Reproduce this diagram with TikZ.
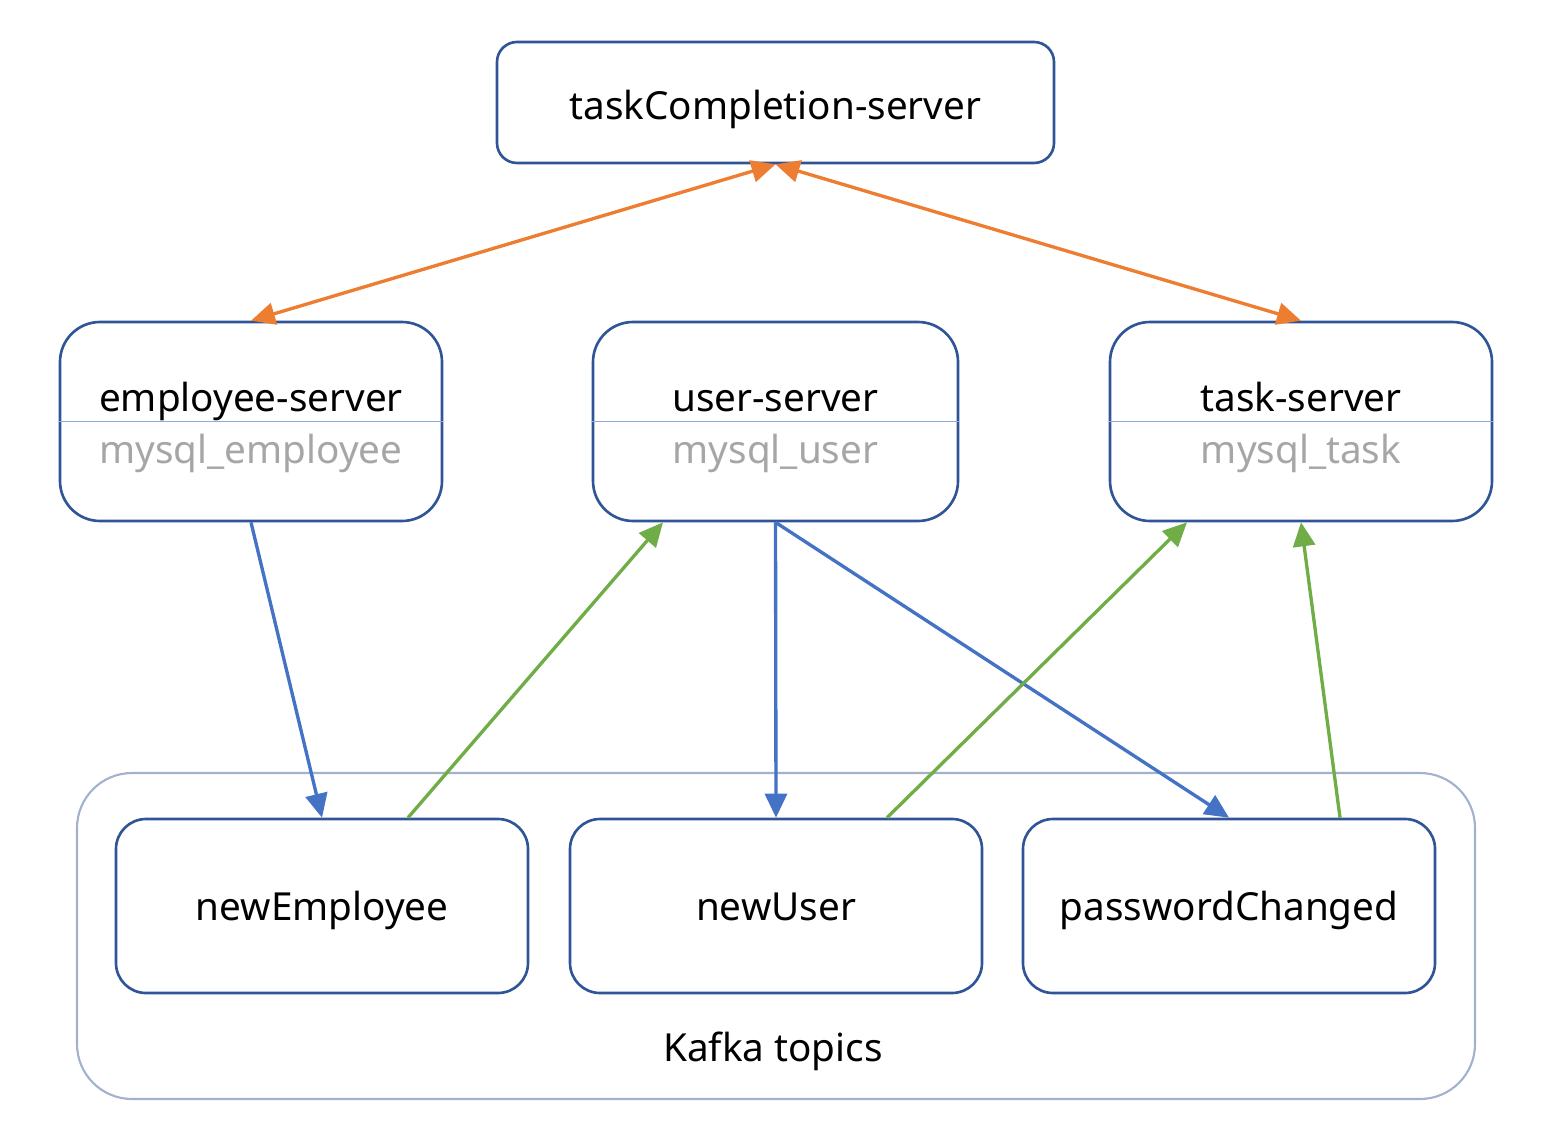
\documentclass[tikz,border=0pt]{standalone}
\usepackage{fontspec}
\setmainfont{Noto Sans}
\usetikzlibrary{arrows.meta, positioning}

\definecolor{boxblue}{HTML}{2F5597}
\definecolor{lineblue}{HTML}{4472C4}
\definecolor{divblue}{HTML}{8EAADB}
\definecolor{kafkagray}{HTML}{A2B1CC}
\definecolor{orangeln}{HTML}{ED7D31}
\definecolor{greenln}{HTML}{70AD47}
\definecolor{dbgray}{HTML}{A6A6A6}

\begin{document}
\begin{tikzpicture}[
    every node/.style={font=\fontsize{22}{26}\selectfont, inner sep=0pt, text height=0.56cm, text depth=0pt},
    server/.style={draw=boxblue, line width=1.5pt, rounded corners=0.8cm, minimum width=7.64cm, minimum height=3.98cm},
    topic/.style={draw=boxblue, line width=1.5pt, rounded corners=0.6cm, minimum width=8.24cm, minimum height=3.48cm},
    dbtext/.style={text=dbgray, anchor=base},
    tip/.style={-{Triangle[length=0.48cm, width=0.44cm]}, line width=1.9pt}
]

\useasboundingbox (0,0) rectangle (31.1,-22.7);

% Kafka frame
\node[draw=kafkagray, line width=1.2pt, rounded corners=1.1cm, minimum width=27.96cm, minimum height=6.52cm] (kafka) at (15.52, -18.72) {};
\node (kafkalabel) at (15.46, -20.94) {Kafka topics};

% Top server
\node[draw=boxblue, line width=1.5pt, rounded corners=0.4cm, minimum width=11.14cm, minimum height=2.42cm, text height=0.7cm] (tc) at (15.51, -2.05) {taskCompletion-server};

% Servers with their databases
\node[server] (emp) at (5.02, -8.43) {};
\node[server, minimum width=7.3cm] (usr) at (15.51, -8.43) {};
\node[server] (tsk) at (26.02, -8.43) {};

\foreach \s/\name/\db in {emp/employee-server/mysql\_employee,
                          usr/user-server/mysql\_user,
                          tsk/task-server/mysql\_task} {
    \draw[divblue, line width=0.9pt] (\s.west) -- (\s.east);
    \node[anchor=base] (\s name) at ([yshift=0.19cm]\s.center) {\name};
    \node[dbtext] (\s db) at ([yshift=-0.83cm]\s.center) {\db};
}

% Topics
\node[topic] (newemp) at (6.44, -18.12) {newEmployee};
\node[topic] (newusr) at (15.52, -18.12) {newUser};
\node[topic] (pwd) at (24.58, -18.12) {passwordChanged};

% Orange arrows
\draw[tip, {Triangle[length=0.48cm, width=0.44cm]}-{Triangle[length=0.48cm, width=0.44cm]}, orangeln] (tc.south) -- (emp.north);
\draw[tip, {Triangle[length=0.48cm, width=0.44cm]}-{Triangle[length=0.48cm, width=0.44cm]}, orangeln] (tc.south) -- (tsk.north);

% Blue arrows
\foreach \i/\j in {emp/newemp, usr/newusr, usr/pwd}
    \draw[tip, lineblue] (\i.south) -- (\j.north);

% Green arrows
\draw[tip, greenln] ([xshift=1.72cm]newemp.north) -- ([xshift=-2.25cm]usr.south);
\draw[tip, greenln] ([xshift=2.22cm]newusr.north) -- ([xshift=-2.28cm]tsk.south);
\draw[tip, greenln] ([xshift=2.22cm]pwd.north) -- (tsk.south);

\end{tikzpicture}
\end{document}
